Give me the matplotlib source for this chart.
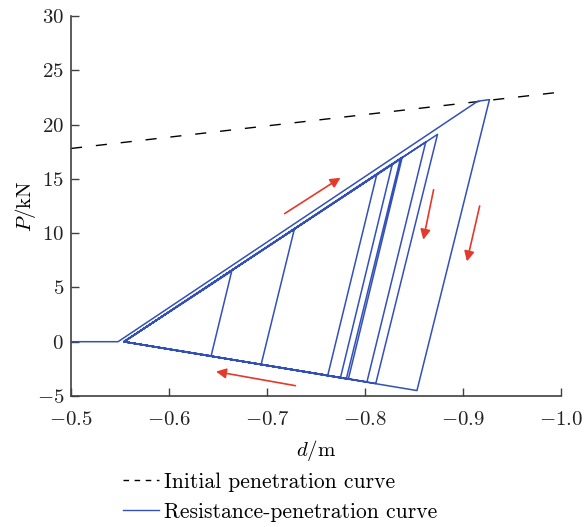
import matplotlib
matplotlib.use('Agg')
import matplotlib.pyplot as plt
from matplotlib.lines import Line2D

plt.rcParams['font.family'] = 'serif'
plt.rcParams['font.serif'] = ['cmr10']
plt.rcParams['mathtext.fontset'] = 'cm'
plt.rcParams['axes.formatter.use_mathtext'] = True
plt.rcParams['font.size'] = 15

# начальная кривая внедрения (пунктир)
init_d = [-0.5, -1.0]
init_P = [17.8, 23.0]

# кривая сопротивление-внедрение
first_d = [-0.5, -0.548, -0.915]
first_P = [0.0, 0.0, 22.15]
reload_d = -0.554
reload_P = 0.0
peak_d = [-0.927, -0.664, -0.728, -0.812, -0.828, -0.836, -0.838, -0.862, -0.874]
peak_P = [22.3, 6.5, 10.4, 15.4, 16.4, 16.8, 17.0, 18.4, 19.1]
valley_d = [-0.853, -0.643, -0.694, -0.762, -0.775, -0.781, -0.783, -0.802, -0.811]
valley_P = [-4.5, -1.3, -2.1, -3.1, -3.3, -3.4, -3.45, -3.7, -3.85]

# стрелки направления нагружения
arrow_tail = [(-0.718, 11.8), (-0.870, 14.0), (-0.917, 12.5), (-0.729, -4.05)]
arrow_head = [(-0.775, 15.1), (-0.8595, 9.4), (-0.904, 7.4), (-0.648, -2.75)]

curve_d = list(first_d)
curve_P = list(first_P)
for pd, pp, vd, vp in zip(peak_d, peak_P, valley_d, valley_P):
    curve_d += [pd, vd, reload_d]
    curve_P += [pp, vp, reload_P]

blue = '#3350b8'
red = '#e5392b'

fig = plt.figure(figsize=(5.84, 5.27), dpi=100)
ax = fig.add_axes([0.1216, 0.2486, 0.839, 0.721])

ax.plot(init_d, init_P, color='black', linestyle=(0, (8, 10)), linewidth=1.0)
ax.plot(curve_d, curve_P, color=blue, linewidth=1.1)

for t, h in zip(arrow_tail, arrow_head):
    ax.annotate('', xy=h, xytext=t,
                arrowprops=dict(arrowstyle='-|>', color=red, lw=1.2,
                                mutation_scale=15, shrinkA=0, shrinkB=0))

ax.set_xlim(-0.5, -1.0)
ax.set_ylim(-5, 30)
ax.set_xticks([-0.5, -0.6, -0.7, -0.8, -0.9, -1.0])
ax.set_yticks([-5, 0, 5, 10, 15, 20, 25, 30])
ax.spines['top'].set_visible(False)
ax.spines['right'].set_visible(False)
for s in ['left', 'bottom']:
    ax.spines[s].set_color('#404040')
    ax.spines[s].set_linewidth(1.2)
ax.tick_params(direction='in', length=6, width=1.0, color='#404040', labelcolor='#222222')
ax.tick_params(axis='x', pad=11)
ax.tick_params(axis='y', pad=5)

ax.set_xlabel(r'$d/\mathrm{m}$', labelpad=6)
ax.set_ylabel(r'$P/\mathrm{kN}$', labelpad=-1)

handles = [Line2D([], [], color='black', linestyle=(0, (4, 4)), linewidth=1.0),
           Line2D([], [], color=blue, linewidth=1.0)]
labels = ['Initial penetration curve', 'Resistance-penetration curve']
fig.legend(handles, labels, loc='center', bbox_to_anchor=(0.479, 0.057),
           frameon=False, handlelength=1.7, handletextpad=0.2, labelspacing=0.5,
           fontsize=15.5)

fig.savefig('out.png', dpi=100)
